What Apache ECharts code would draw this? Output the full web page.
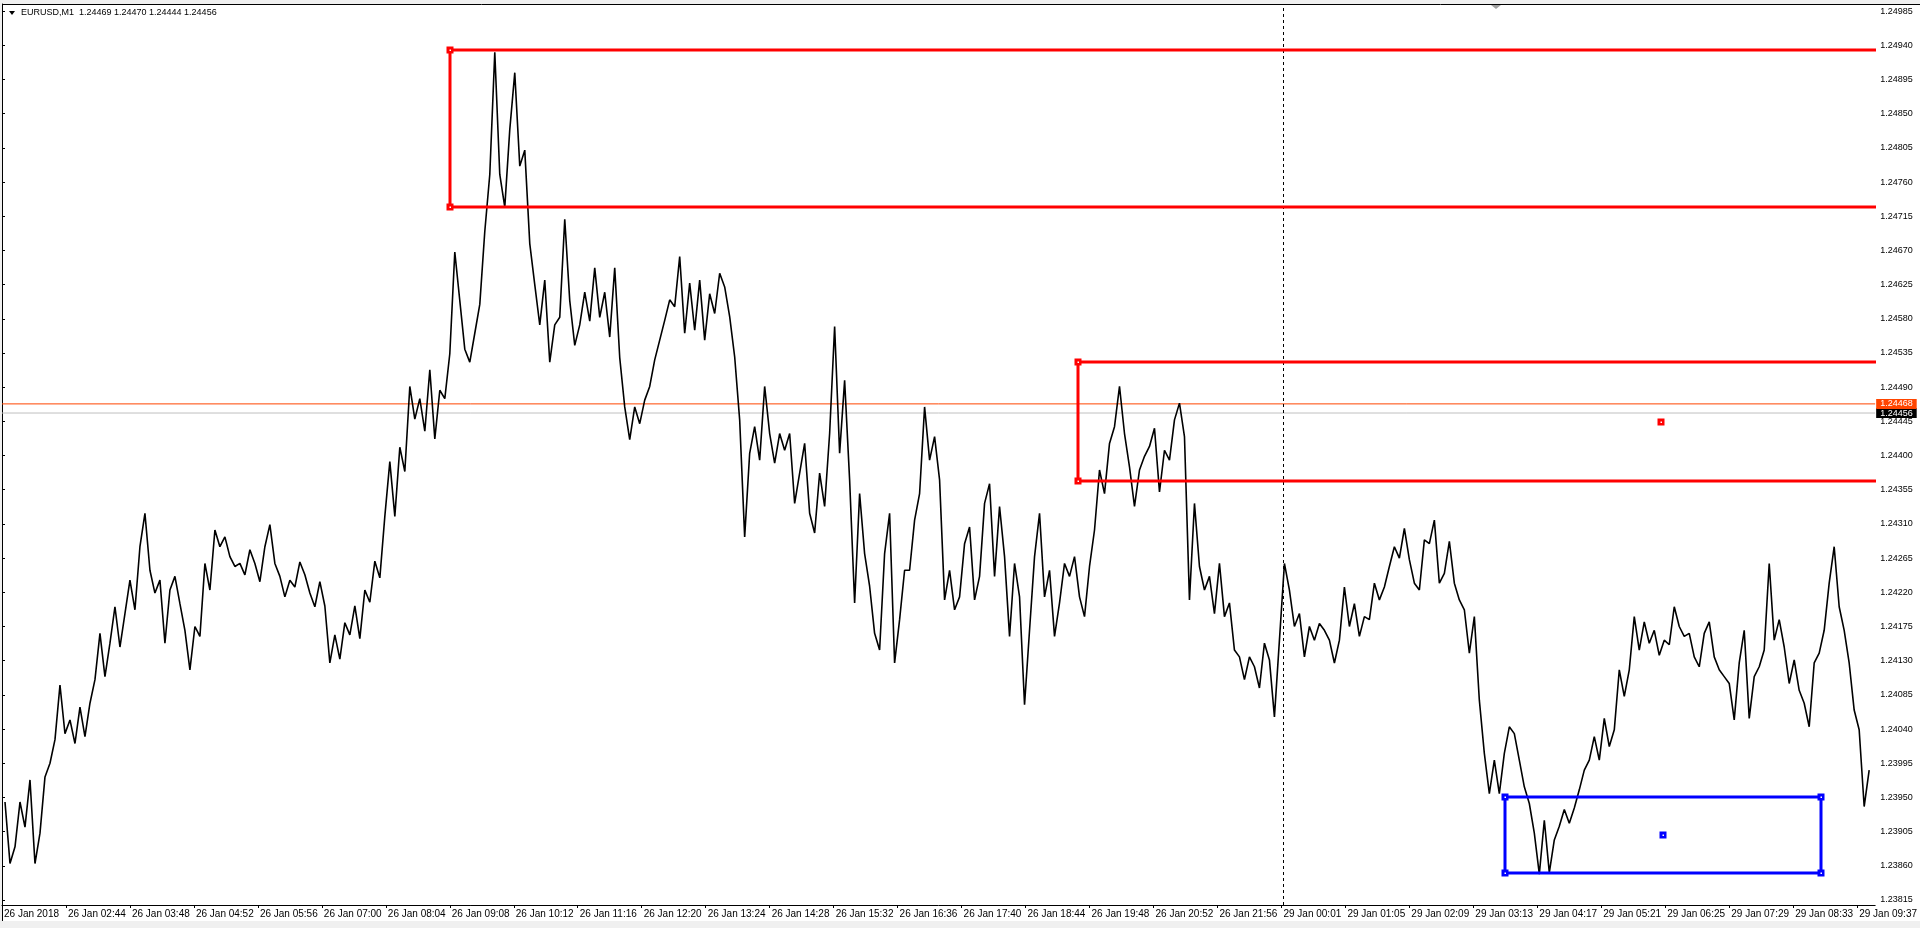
<!DOCTYPE html>
<html><head><meta charset="utf-8">
<script src="https://cdn.jsdelivr.net/npm/echarts@6/dist/echarts.min.js"></script>
<style>html,body{margin:0;padding:0;background:#fff;overflow:hidden}#c{width:1920px;height:928px}</style>
</head><body><div id="c"></div>
<script>
// ---- data ----
const symbolName = 'EURUSD,M1';
const headerQuote = [1.24469, 1.24470, 1.24444, 1.24456];
const timeLabels = ['26 Jan 2018','26 Jan 02:44','26 Jan 03:48','26 Jan 04:52','26 Jan 05:56','26 Jan 07:00','26 Jan 08:04','26 Jan 09:08','26 Jan 10:12','26 Jan 11:16','26 Jan 12:20','26 Jan 13:24','26 Jan 14:28','26 Jan 15:32','26 Jan 16:36','26 Jan 17:40','26 Jan 18:44','26 Jan 19:48','26 Jan 20:52','26 Jan 21:56','29 Jan 00:01','29 Jan 01:05','29 Jan 02:09','29 Jan 03:13','29 Jan 04:17','29 Jan 05:21','29 Jan 06:25','29 Jan 07:29','29 Jan 08:33','29 Jan 09:37'];
const barsPerLabel = 64;
const priceTicks = [1.23815,1.23860,1.23905,1.23950,1.23995,1.24040,1.24085,1.24130,1.24175,1.24220,1.24265,1.24310,1.24355,1.24400,1.24445,1.24490,1.24535,1.24580,1.24625,1.24670,1.24715,1.24760,1.24805,1.24850,1.24895,1.24940,1.24985];
// path sampled every 5 bars starting at bar 3
const firstBar = 3, barStep = 5;
const prices = [
1.23944,1.23863,1.23885,1.23944,1.23911,1.23973,1.23863,1.23903,1.23977,1.23995,1.24026,1.24098,1.24034,1.24052,1.24021,1.24069,1.24030,1.24074,1.24105,1.24166,1.24109,1.24153,1.24201,1.24148,1.24192,1.24236,1.24197,1.24280,1.24324,1.24249,1.24219,1.24236,1.24153,1.24223,1.24241,1.24205,1.24170,1.24118,1.24175,1.24162,1.24258,1.24223,1.24302,1.24280,1.24293,1.24267,1.24254,1.24258,1.24243,1.24276,1.24258,1.24234,1.24280,1.24309,1.24258,1.24241,1.24214,1.24236,1.24227,1.24260,1.24243,1.24219,1.24201,
1.24234,1.24202,1.24127,1.24164,1.24132,1.24180,1.24164,1.24202,1.24159,1.24223,1.24207,1.24261,1.24239,1.24320,1.24392,1.24320,1.24411,1.24379,1.24491,1.24448,1.24475,1.24432,1.24513,1.24422,1.24486,1.24475,1.24534,1.24668,1.24604,1.24540,1.24523,1.24561,1.24599,1.24695,1.24770,1.24931,1.24770,1.24727,1.24829,1.24904,1.24781,1.24802,1.24679,1.24625,1.24572,1.24631,1.24523,1.24572,1.24582,1.24711,1.24604,1.24545,1.24572,1.24615,1.24577,1.24647,1.24582,1.24615,1.24556,1.24647,1.24529,1.24464,
1.24421,1.24464,1.24442,1.24473,1.24491,1.24526,1.24552,1.24578,1.24605,1.24596,1.24662,1.24561,1.24627,1.24565,1.24631,1.24552,1.24613,1.24587,1.24640,1.24622,1.24583,1.24530,1.24447,1.24293,1.24403,1.24438,1.24394,1.24491,1.24429,1.24390,1.24429,1.24407,1.24429,1.24337,1.24377,1.24416,1.24324,1.24298,1.24377,1.24333,1.24429,1.24570,1.24403,1.24499,1.24368,1.24206,1.24350,1.24271,1.24228,1.24166,1.24144,1.24271,1.24324,1.24127,1.24184,1.24249,1.24249,1.24315,1.24350,1.24464,1.24394,1.24425,
1.24368,1.24210,1.24249,1.24197,1.24214,1.24284,1.24306,1.24210,1.24241,1.24337,1.24363,1.24241,1.24333,1.24267,1.24162,1.24258,1.24214,1.24072,1.24170,1.24267,1.24324,1.24214,1.24249,1.24162,1.24206,1.24258,1.24241,1.24267,1.24214,1.24188,1.24254,1.24302,1.24381,1.24350,1.24416,1.24438,1.24491,1.24429,1.24385,1.24333,1.24381,1.24399,1.24412,1.24436,1.24352,1.24407,1.24394,1.24447,1.24469,1.24425,1.24210,1.24337,1.24254,1.24223,1.24241,1.24192,1.24258,1.24188,1.24206,1.24144,1.24135,1.24105,
1.24135,1.24122,1.24094,1.24153,1.24131,1.24056,1.24157,1.24258,1.24223,1.24175,1.24192,1.24135,1.24175,1.24157,1.24179,1.24170,1.24157,1.24127,1.24157,1.24227,1.24175,1.24205,1.24162,1.24188,1.24184,1.24232,1.24210,1.24227,1.24254,1.24280,1.24265,1.24304,1.24263,1.24232,1.24223,1.24289,1.24284,1.24315,1.24232,1.24245,1.24287,1.24232,1.24210,1.24197,1.24140,1.24188,1.24078,1.24008,1.23955,1.23999,1.23955,1.24008,1.24043,1.24034,1.23999,1.23964,1.23942,1.23903,1.23849,1.23920,1.23851,1.23894,
1.23912,1.23934,1.23916,1.23936,1.23960,1.23986,1.23999,1.24030,1.23999,1.24054,1.24017,1.24039,1.24118,1.24083,1.24118,1.24188,1.24144,1.24181,1.24153,1.24170,1.24137,1.24157,1.24151,1.24201,1.24175,1.24162,1.24166,1.24135,1.24122,1.24166,1.24181,1.24135,1.24118,1.24109,1.24100,1.24052,1.24127,1.24170,1.24054,1.24109,1.24122,1.24144,1.24258,1.24157,1.24184,1.24148,1.24100,1.24131,1.24091,1.24074,1.24043,1.24127,1.24140,1.24170,1.24232,1.24280,1.24201,1.24170,1.24127,1.24065,1.24039,1.23938,1.23986
];
const askPrice = 1.24468;
const bidPrice = 1.24456;
const separatorBar = 1282;
// rectangles (bar index / price)
const boxStartBar = [448, 1076, 1504];
const boxEndBar = [3600, 2242, 1820];
const boxTop = [1.24934, 1.24523, 1.23950];
const boxBottom = [1.24727, 1.24367, 1.23850];
const boxColors = ['#ff0000', '#ff0000', '#0000ff'];

// ---- chart ----
const FONT = 'Liberation Sans, Arial, sans-serif';
const X_MAX = 1874;
const chart = echarts.init(document.getElementById('c'), null, {renderer: 'canvas'});
const labelBars = timeLabels.map((_, i) => i * barsPerLabel);
const pathData = prices.map((p, i) => [firstBar + i * barStep, p]);
const boxData = boxStartBar.map((s, i) => [s, boxEndBar[i], boxTop[i], boxBottom[i], i]);

function priceLine(price, lineColor, boxColor, z) {
  return {
    type: 'line', data: [[0, price], [X_MAX, price]], showSymbol: false, symbol: 'none', silent: true, z: z,
    lineStyle: {color: lineColor, width: 1},
    endLabel: {show: true, distance: 1, formatter: price.toFixed(5), backgroundColor: boxColor, color: '#fff',
      fontSize: 9, fontFamily: FONT, padding: [1, 4, 0, 4], lineHeight: 9}
  };
}

chart.setOption({
  animation: false,
  backgroundColor: '#ffffff',
  grid: {left: 2, right: 44, top: 4, bottom: 23, show: false},
  xAxis: {
    type: 'value', min: 0, max: X_MAX,
    axisLine: {show: true, onZero: false, lineStyle: {color: '#000', width: 1}},
    axisTick: {show: true, length: 3, customValues: labelBars, lineStyle: {color: '#000'}},
    axisLabel: {show: true, customValues: labelBars, align: 'left', margin: 4, padding: [0,0,0,2],
      fontSize: 10, fontFamily: FONT, color: '#000',
      formatter: v => timeLabels[Math.round(v / barsPerLabel)] || ''},
    splitLine: {show: false}
  },
  yAxis: {
    type: 'value', position: 'right', min: 1.238084, max: 1.249944, scale: true,
    axisLine: {show: true, lineStyle: {color: '#000', width: 1}},
    axisTick: {show: true, length: 3, customValues: priceTicks, lineStyle: {color: '#000'}},
    axisLabel: {show: true, customValues: priceTicks, margin: 5, fontSize: 9, fontFamily: FONT, color: '#000',
      formatter: v => v.toFixed(5)},
    splitLine: {show: false}
  },
  series: [
    priceLine(bidPrice, '#c0c0c0', '#000000', 1),
    priceLine(askPrice, '#ff4500', '#ff4500', 1),
    {
      type: 'line', data: pathData, showSymbol: false, symbol: 'none', z: 3,
      lineStyle: {color: '#000', width: 1.6}, silent: true,
      markLine: {
        silent: true, symbol: 'none', animation: false,
        data: [
          {xAxis: separatorBar, lineStyle: {color: '#000', width: 1, type: [3, 3]}, label: {show: false}}
        ]
      }
    },
    {
      type: 'custom', clip: true, silent: true, z: 5,
      data: boxData,
      encode: {x: [0, 1], y: [2, 3]},
      renderItem: function (params, api) {
        const a = api.coord([api.value(0), api.value(2)]);
        const b = api.coord([api.value(1), api.value(3)]);
        const color = boxColors[api.value(4)];
        const x0 = Math.round(a[0]), y0 = Math.round(a[1]), x1 = Math.round(b[0]), y1 = Math.round(b[1]);
        const children = [{type: 'rect', shape: {x: x0, y: y0, width: x1 - x0, height: y1 - y0},
          style: {fill: null, stroke: color, lineWidth: 3}}];
        const pts = [[x0, y0], [x0, y1], [x1, y0], [x1, y1], [Math.round((x0 + x1) / 2), Math.round((y0 + y1) / 2)]];
        pts.forEach(pt => {
          children.push({type: 'rect', shape: {x: pt[0] - 3.5, y: pt[1] - 3.5, width: 7, height: 7}, style: {fill: color}});
          children.push({type: 'rect', shape: {x: pt[0] - 0.5, y: pt[1] - 0.5, width: 1.5, height: 1.5}, style: {fill: '#fff'}});
        });
        return {type: 'group', children: children};
      }
    }
  ],
  graphic: [
    {type: 'rect', left: 0, top: 0, shape: {width: 1920, height: 4}, style: {fill: '#f0f0f0'}, silent: true},
    {type: 'rect', left: 0, top: 0, shape: {width: 2, height: 928}, style: {fill: '#f0f0f0'}, silent: true},
    {type: 'rect', left: 0, top: 921, shape: {width: 1920, height: 7}, style: {fill: '#f0f0f0'}, silent: true},
    {type: 'line', shape: {x1: 2, y1: 4.5, x2: 1920, y2: 4.5}, style: {stroke: '#000', lineWidth: 1}, silent: true},
    {type: 'line', shape: {x1: 2.5, y1: 4, x2: 2.5, y2: 921}, style: {stroke: '#000', lineWidth: 1}, silent: true},
    {type: 'polygon', shape: {points: [[9, 11], [15, 11], [12, 15]]}, style: {fill: '#000'}, silent: true},
    {type: 'text', left: 21, top: 8, style: {text: symbolName + '  ' + headerQuote.map(v => v.toFixed(5)).join(' '),
      font: '9px ' + FONT, fill: '#000'}, silent: true},
    {type: 'polygon', shape: {points: [[1491, 5], [1501, 5], [1496, 9]]}, style: {fill: '#a0a0a0'}, silent: true}
  ]
});
</script>
</body></html>
